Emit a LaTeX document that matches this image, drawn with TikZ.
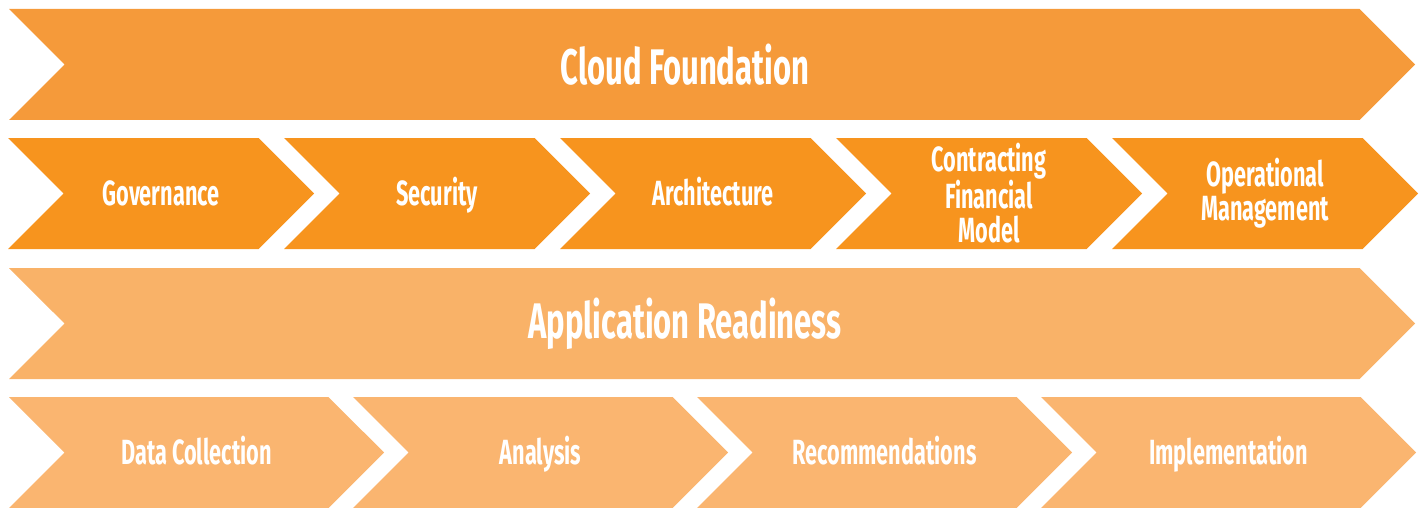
\documentclass[tikz,border=0pt]{standalone}
\usepackage[dvipsnames]{xcolor}
\usepackage{fontspec}
\setmainfont{Fira Sans}[FakeStretch=0.62]
\usetikzlibrary{shapes.symbols}

\definecolor{cloudorange}{RGB}{245,154,58}
\definecolor{steporange}{RGB}{247,148,30}
\definecolor{apporange}{RGB}{249,178,104}
\definecolor{phaseorange}{RGB}{250,181,112}

\begin{document}
\begin{tikzpicture}[x=1pt,y=-1pt,node distance=276pt,
    band/.style={signal,signal from=west,signal to=east,signal pointer angle=90,inner sep=0pt,minimum height=111pt},
    head text/.style={text=white,font=\bfseries\fontsize{50}{50}\selectfont,inner sep=0pt},
    step node/.style={band,fill=steporange,minimum width=306pt,text=white,align=center,font=\bfseries\fontsize{35}{34}\selectfont},
    phase node/.style={band,fill=phaseorange,minimum width=375pt,text=white,align=center,font=\bfseries\fontsize{35}{34}\selectfont},
    one line/.style={text height=24pt,text depth=0pt}]

            \useasboundingbox (0,0) rectangle (1423,508);

            \node[band, fill=cloudorange, minimum width=1406pt] (cloud) at (712,64.5) {};
            \node[head text] (cloudlabel) at ([xshift=-27pt]cloud.center) {Cloud Foundation};

            \node[step node, one line] (gov) at (161,193.5) {Governance};
            \node[step node, one line] (sec) [right of = gov] {Security};
            \node[step node, one line] (arch) [right of = sec] {Architecture};
            \node[step node] (fin) [right of = arch] {Contracting\\Financial\\Model};
            \node[step node] (ops) [right of = fin] {Operational\\Management};

            \node[band, fill=apporange, minimum width=1406pt] (app) at (712,323.5) {};
            \node[head text] (applabel) at ([xshift=-27pt]app.center) {Application Readiness};

            \node[phase node, one line] (data) at (196.5,452.5) {Data Collection};
            \node[phase node, one line, node distance=344pt] (ana) [right of = data] {Analysis};
            \node[phase node, one line, node distance=344pt] (rec) [right of = ana] {Recommendations};
            \node[phase node, one line, node distance=344pt] (impl) [right of = rec] {Implementation};

        \end{tikzpicture}
\end{document}
